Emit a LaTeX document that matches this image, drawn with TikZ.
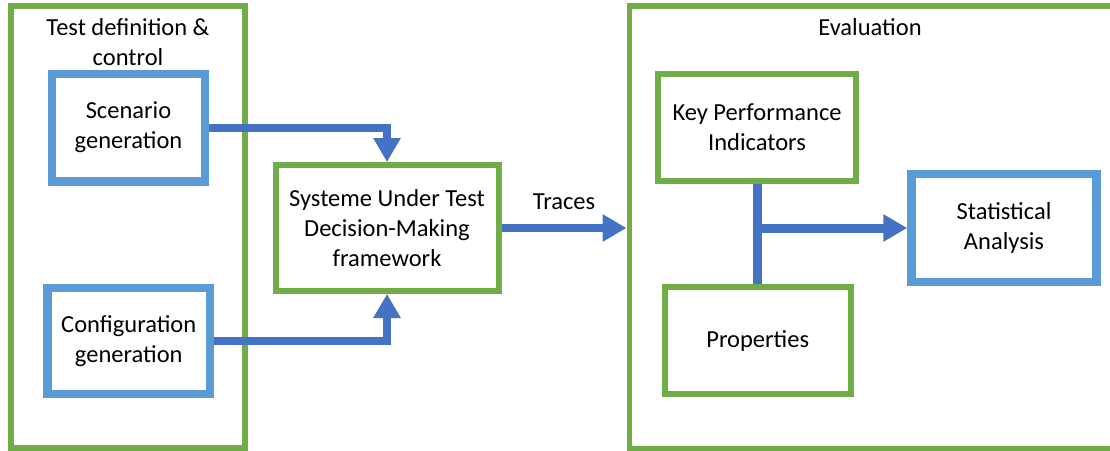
\documentclass[tikz,border=0pt]{standalone}
\usepackage{fontspec}
\setmainfont{Carlito}
\usetikzlibrary{arrows.meta}
\definecolor{ogreen}{RGB}{112,173,71}
\definecolor{oblue}{RGB}{91,155,213}
\definecolor{ablue}{RGB}{68,114,196}
\tikzset{
  txt/.style={font=\fontsize{24.5}{30}\selectfont},
  box/.style={draw, fill=white, align=center, inner sep=0pt, txt},
  gbox/.style={box, draw=ogreen, line width=6pt},
  bbox/.style={box, draw=oblue, line width=8.5pt},
  cont/.style={draw=ogreen, line width=5.5pt, inner sep=0pt},
  lbl/.style={align=center, inner sep=0pt, txt},
  arr/.style={draw=ablue, line width=8pt, -{Triangle[width=26pt,length=24pt]}},
  conn/.style={draw=ablue, line width=9pt}
}
\begin{document}
\begin{tikzpicture}[x=1pt,y=-1pt]
\path[use as bounding box, clip] (0,0) rectangle (1110,450);
\fill[white] (0,0) rectangle (1110,450);
% containers
\node[cont, minimum width=234pt, minimum height=442pt] (left) at (128,227) {};
\node[cont, minimum width=484pt, minimum height=442.5pt] (eval) at (871.25,227.25) {};
\node[lbl] (lefttitle) at (128,42) {Test definition \&\\control};
\node[lbl] (evaltitle) at (870,27) {Evaluation};
% boxes
\node[bbox, minimum width=153pt, minimum height=107.5pt] (scen) at (128.5,127.5) {Scenario\\generation};
\node[bbox, minimum width=162.5pt, minimum height=106pt] (conf) at (128.75,341) {Configuration\\generation};
\node[gbox, minimum width=223pt, minimum height=126pt] (sut) at (387,228) {Systeme Under Test\\Decision-Making\\framework};
\node[gbox, minimum width=198pt, minimum height=107pt] (kpi) at (757,127.5) {Key Performance\\Indicators};
\node[gbox, minimum width=185.5pt, minimum height=107pt] (prop) at (757.75,340.5) {Properties};
\node[bbox, minimum width=185pt, minimum height=108pt] (stat) at (1004,228) {Statistical\\Analysis};
% connectors
\draw[arr] (scen.east) -| (sut.north);
\draw[arr] (conf.east) -| (sut.south);
\draw[arr] (sut.east) -- (sut.east -| eval.west) node[midway, above=14pt, lbl] (traces) {Traces};
\coordinate (kb) at (kpi.south);
\draw[conn] (kb) -- (kb |- prop.north);
\coordinate (junc) at (kb |- stat.west);
\draw[arr, line width=9pt] (junc) -- (stat.west);
\end{tikzpicture}
\end{document}
